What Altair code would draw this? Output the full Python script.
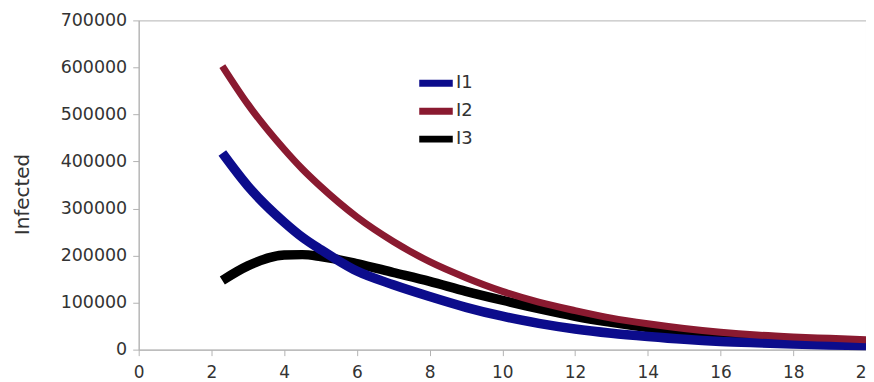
import altair as alt
import pandas as pd

# Sample positions (days)
x_vals = [2.3, 3, 4, 4.5, 5, 6, 7, 8, 9, 10, 11, 12, 13, 14, 15, 16, 17, 18, 19, 20]

# Infected counts
i1_vals = [418000, 348000, 271000, 239000, 213000, 167000, 138000, 113000, 90000, 71000,
           56000, 44000, 35000, 28000, 22000, 17500, 14500, 12000, 10000, 9000]
i2_vals = [603000, 522000, 426000, 384000, 347000, 282000, 230000, 187000, 153000, 124000,
           101000, 83000, 67000, 55000, 45000, 37000, 31000, 27000, 24000, 21000]
i3_vals = [147000, 178000, 201000, 202000, 198000, 183000, 164000, 145000, 124000, 105000,
           87000, 71000, 58000, 47000, 38000, 30000, 24000, 19000, 15000, 12000]

series_names = ["I1", "I2", "I3"]
series_colors = ["#0c0c8c", "#8a1a30", "#000000"]
series_widths = {"I1": 9.5, "I2": 7, "I3": 9.5}

rows = []
for name, vals in [("I1", i1_vals), ("I2", i2_vals), ("I3", i3_vals)]:
    for x, v in zip(x_vals, vals):
        rows.append({"day": x, "infected": v, "series": name})
df = pd.DataFrame(rows)

font = "DejaVu Sans"

x_enc = alt.X("day:Q", scale=alt.Scale(domain=[0, 20], nice=False),
              axis=alt.Axis(values=list(range(0, 21, 2)), title=None, grid=False,
                            labelFontSize=17, labelPadding=9, tickSize=6,
                            labelFlush=False))
y_enc = alt.Y("infected:Q", scale=alt.Scale(domain=[0, 700000], nice=False),
              axis=alt.Axis(values=list(range(0, 700001, 100000)), format="d",
                            title="Infected", grid=False,
                            labelFontSize=17.5, labelPadding=6, tickSize=6,
                            titleFontSize=20, titleFontWeight="normal",
                            titlePadding=28, titleY=174))
color_enc = alt.Color("series:N",
                      scale=alt.Scale(domain=series_names, range=series_colors),
                      legend=alt.Legend(title=None, orient="none", legendX=284, legendY=49,
                                        symbolType="M-1.6,0H1.6", symbolSize=441,
                                        symbolStrokeWidth=7, labelFontSize=18,
                                        labelOffset=6, rowPadding=0,
                                        labelColor="#333333"))

layers = []
# draw order: I3 underneath, then I1, then I2 on top
for name in ["I3", "I1", "I2"]:
    layers.append(
        alt.Chart(df).transform_filter(alt.datum.series == name)
        .mark_line(interpolate="monotone", strokeCap="butt", strokeJoin="round",
                   strokeWidth=series_widths[name])
        .encode(x=x_enc, y=y_enc, color=color_enc)
    )

chart = alt.layer(*layers).properties(
    width=729,
    height=330,
    autosize=alt.AutoSizeParams(type="none"),
    padding={"left": 131, "top": 12, "right": 0, "bottom": 32},
).configure_view(
    stroke="#b3b3b3", strokeWidth=1
).configure_axis(
    domainColor="#b3b3b3", tickColor="#b3b3b3", labelColor="#333333",
    titleColor="#333333", labelFont=font, titleFont=font
).configure_legend(
    labelFont=font
)

chart.save("out.html", embed_options={"renderer": "svg", "actions": False})
